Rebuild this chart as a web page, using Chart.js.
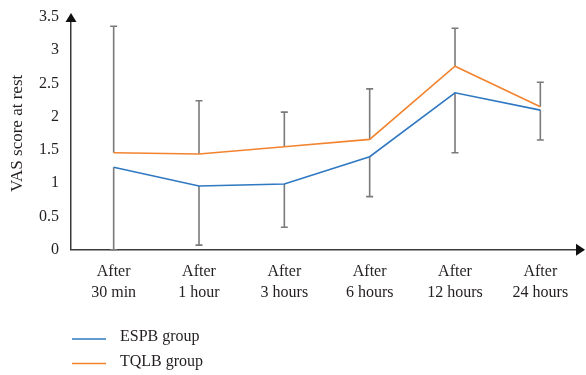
<!DOCTYPE html>
<html>
<head>
<meta charset="utf-8">
<script src="https://cdn.jsdelivr.net/npm/chart.js@4/dist/chart.umd.min.js"></script>
<style>
  html, body { margin: 0; padding: 0; background: #fff; }
  canvas { display: block; }
</style>
</head>
<body>
<canvas id="c" width="586" height="375"></canvas>
<script>
// Time points after the block
const timePoints = [
  ['After', '30 min'],
  ['After', '1 hour'],
  ['After', '3 hours'],
  ['After', '6 hours'],
  ['After', '12 hours'],
  ['After', '24 hours']
];

// Mean VAS scores at rest
const espbMean = [1.24, 0.96, 0.99, 1.40, 2.36, 2.10];
const tqlbMean = [1.46, 1.44, 1.55, 1.66, 2.76, 2.15];

// Standard deviations: ESPB drawn downward, TQLB drawn upward
const espbSD = [1.24, 0.89, 0.65, 0.60, 0.90, 0.45];
const tqlbSD = [1.90, 0.80, 0.52, 0.76, 0.57, 0.37];

const yTickLabels = ['0', '0.5', '1', '1.5', '2', '2.5', '3', '3.5'];

const FONT = '"Liberation Serif", "Times New Roman", serif';
const TEXT = '#231f20';
const AXIS = '#3a3a3a';

// Error bars: lower whisker for ESPB, upper whisker for TQLB
const errorBars = {
  id: 'errorBars',
  beforeDatasetsDraw(chart) {
    const ctx = chart.ctx;
    const x = chart.scales.x, y = chart.scales.y;
    ctx.save();
    ctx.strokeStyle = '#7a7a7a';
    ctx.lineWidth = 1.6;
    const cap = 3.5;
    const seg = (px, v0, v1) => {
      const p0 = y.getPixelForValue(v0), p1 = y.getPixelForValue(v1);
      ctx.beginPath();
      ctx.moveTo(px, p0); ctx.lineTo(px, p1);
      ctx.moveTo(px - cap, p1); ctx.lineTo(px + cap, p1);
      ctx.stroke();
    };
    timePoints.forEach((_, i) => {
      const px = x.getPixelForValue(i);
      seg(px, espbMean[i], Math.max(0, espbMean[i] - espbSD[i]));
      seg(px, tqlbMean[i], tqlbMean[i] + tqlbSD[i]);
    });
    ctx.restore();
  }
};

// Arrow heads on both axes
const axisArrows = {
  id: 'axisArrows',
  afterDraw(chart) {
    const ctx = chart.ctx;
    const a = chart.chartArea;
    ctx.save();
    ctx.fillStyle = '#111';
    ctx.beginPath();
    ctx.moveTo(a.left, a.top - 4);
    ctx.lineTo(a.left - 5.5, a.top + 5);
    ctx.lineTo(a.left + 5.5, a.top + 5);
    ctx.closePath(); ctx.fill();
    ctx.beginPath();
    ctx.moveTo(a.right + 2, a.bottom);
    ctx.lineTo(a.right - 7, a.bottom - 6);
    ctx.lineTo(a.right - 7, a.bottom + 6);
    ctx.closePath(); ctx.fill();
    ctx.restore();
  }
};

// Vertical legend below the plot
const bottomLegend = {
  id: 'bottomLegend',
  afterDraw(chart) {
    const ctx = chart.ctx;
    ctx.save();
    ctx.font = '16px ' + FONT;
    ctx.textBaseline = 'middle';
    ctx.fillStyle = TEXT;
    chart.data.datasets.forEach((ds, i) => {
      const yy = 337 + i * 24.5;
      ctx.strokeStyle = ds.borderColor;
      ctx.lineWidth = 1.5;
      ctx.beginPath();
      ctx.moveTo(72, yy + 2); ctx.lineTo(106, yy + 2);
      ctx.stroke();
      ctx.fillText(ds.label, 120, yy);
    });
    ctx.restore();
  }
};

new Chart(document.getElementById('c'), {
  type: 'line',
  data: {
    labels: timePoints,
    datasets: [
      { label: 'ESPB group', data: espbMean, borderColor: '#2f78c2', backgroundColor: '#2f78c2',
        borderWidth: 1.6, pointRadius: 0, tension: 0, fill: false },
      { label: 'TQLB group', data: tqlbMean, borderColor: '#f2832f', backgroundColor: '#f2832f',
        borderWidth: 1.6, pointRadius: 0, tension: 0, fill: false }
    ]
  },
  options: {
    responsive: false,
    animation: false,
    devicePixelRatio: 1,
    layout: { padding: { top: 17, right: 3, bottom: 60, left: 0 } },
    plugins: { legend: { display: false }, tooltip: { enabled: false } },
    scales: {
      x: {
        offset: true,
        grid: { display: false, drawTicks: false },
        border: { display: true, color: AXIS, width: 1.5 },
        ticks: { color: TEXT, font: { family: FONT, size: 16, lineHeight: 1.35 }, padding: 11,
                 maxRotation: 0, autoSkip: false }
      },
      y: {
        min: 0, max: 3.5,
        afterFit(scale) { scale.width = 71; scale.paddingTop = 0; scale.paddingBottom = 0; },
        grid: { display: false, drawTicks: false },
        border: { display: true, color: AXIS, width: 1.5 },
        ticks: { color: TEXT, font: { family: FONT, size: 16 }, padding: 12, stepSize: 0.5,
                 callback: (v, i) => yTickLabels[i] },
        title: { display: true, text: 'VAS score at rest', color: TEXT,
                 font: { family: FONT, size: 17 }, padding: { top: 7, bottom: 0 } }
      }
    }
  },
  plugins: [errorBars, axisArrows, bottomLegend]
});
</script>
</body>
</html>
